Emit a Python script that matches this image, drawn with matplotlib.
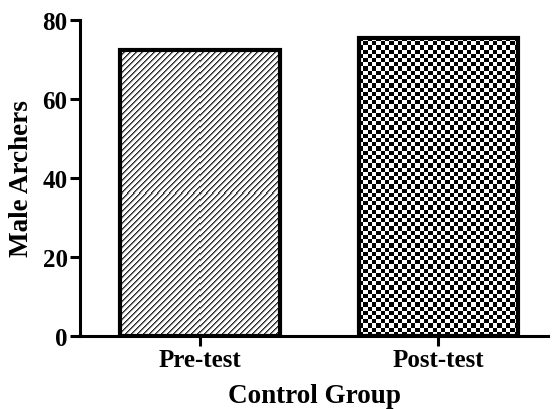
import numpy as np
import matplotlib.pyplot as plt

groups = ["Pre-test", "Post-test"]
values = [72.5, 75.5]
yticks = [0, 20, 40, 60, 80]

plt.rcParams['font.family'] = ['Liberation Serif', 'DejaVu Serif']
plt.rcParams['font.weight'] = 'bold'

fig = plt.figure(figsize=(5.52, 4.10), dpi=100)
ax = fig.add_axes([80/552, 1-337/410, 468/552, 316/410])

x = np.arange(len(groups))
bars = ax.bar(x, values, width=0.67, facecolor='none', edgecolor='black', linewidth=3, zorder=3)

# relleno de cada barra con una textura recortada a la barra
px_x = 468 / 1.965   # pixeles por unidad en x
px_y = 316 / 80      # pixeles por unidad en y

def textura(barra, tipo):
    x0, w, h = barra.get_x(), barra.get_width(), barra.get_height()
    if tipo == 'diag':
        nx, ny = int(w * px_x / 1.0), int(h * px_y / 1.0)
        i, j = np.indices((ny, nx))
        niveles = np.array([0.15, 0.45, 0.85, 1, 1, 1])
        z = niveles[(i + j) % 6]
    else:
        nx, ny = int(w * px_x / 4.2), int(h * px_y / 4.2)
        i, j = np.indices((ny, nx))
        z = ((i + j) % 2).astype(float)
    im = ax.imshow(z, cmap='gray', vmin=0, vmax=1, extent=[x0, x0 + w, 0, h],
                   aspect='auto', interpolation='nearest', zorder=2)
    im.set_clip_path(barra)

textura(bars[0], 'diag')
textura(bars[1], 'cuadros')

ax.set_xlim(-0.505, 1.46)
ax.set_ylim(0, 80)
ax.set_xticks(x)
ax.set_xticklabels(groups, fontsize=18, fontweight='bold')
ax.set_yticks(yticks)
ax.set_yticklabels([str(t) for t in yticks], fontsize=18, fontweight='bold')
ax.spines['top'].set_visible(False)
ax.spines['right'].set_visible(False)
ax.spines['left'].set_linewidth(2.2)
ax.spines['bottom'].set_linewidth(2.2)
ax.tick_params(width=2.2, length=7, pad=2)
ax.set_ylabel("Male Archers", fontsize=19.5, fontweight='bold', labelpad=6)
ax.set_xlabel("Control Group", fontsize=19.5, fontweight='bold', labelpad=8)

fig.savefig("out.png", dpi=100)
